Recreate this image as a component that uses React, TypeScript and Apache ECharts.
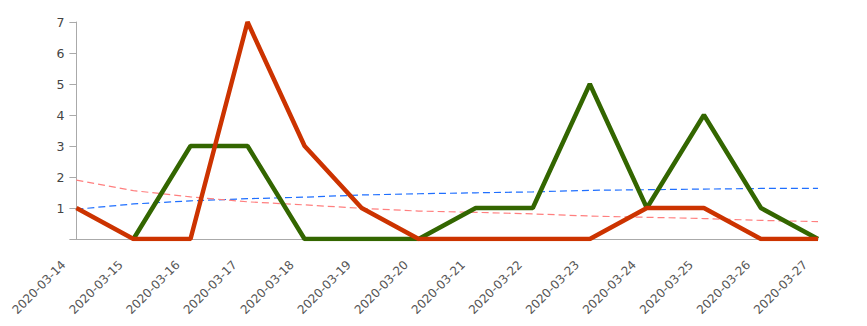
import React, { useEffect, useRef } from "react";
import * as echarts from "echarts";

const dates = [
  "2020-03-14", "2020-03-15", "2020-03-16", "2020-03-17", "2020-03-18", "2020-03-19", "2020-03-20",
  "2020-03-21", "2020-03-22", "2020-03-23", "2020-03-24", "2020-03-25", "2020-03-26", "2020-03-27",
];
const redValues = [1, 0, 0, 7, 3, 1, 0, 0, 0, 0, 1, 1, 0, 0];
const greenValues: (number | string)[] = ["-", 0, 3, 3, 0, 0, 0, 1, 1, 5, 1, 4, 1, 0];
const blueTrend = [0.96, 1.13, 1.23, 1.3, 1.35, 1.42, 1.46, 1.49, 1.52, 1.57, 1.59, 1.61, 1.63, 1.63];
const redTrend = [1.9, 1.56, 1.36, 1.2, 1.1, 0.99, 0.9, 0.86, 0.81, 0.74, 0.7, 0.66, 0.6, 0.56];
const yTicks = [0, 1, 2, 3, 4, 5, 6, 7];

export default function App() {
  const ref = useRef<HTMLDivElement>(null);
  useEffect(() => {
    if (!ref.current) return;
    const chart = echarts.init(ref.current, undefined, { renderer: "svg" });
    chart.setOption({
      animation: false,
      textStyle: { fontFamily: "DejaVu Sans" },
      grid: { left: 67, right: 41, top: 14, bottom: 87 },
      xAxis: {
        type: "category",
        data: dates,
        boundaryGap: false,
        axisLine: { lineStyle: { color: "#aaaaaa", width: 1 } },
        axisTick: { show: false },
        axisLabel: {
          rotate: 45,
          color: "#555555",
          fontSize: 12,
          margin: 11,
          padding: [0, 18, 0, 0],
          fontFamily: "DejaVu Sans",
        },
        splitLine: { show: false },
      },
      yAxis: {
        type: "value",
        min: yTicks[0],
        max: yTicks[yTicks.length - 1],
        interval: 1,
        axisLine: { show: true, lineStyle: { color: "#aaaaaa", width: 1 } },
        axisTick: { show: true, length: 7, lineStyle: { color: "#aaaaaa" } },
        axisLabel: {
          color: "#444444",
          fontSize: 12.5,
          margin: 12,
          fontFamily: "DejaVu Sans",
          formatter: (v: number) => (v === 0 ? "" : String(v)),
        },
        splitLine: { show: false },
      },
      series: [
        {
          type: "line",
          data: blueTrend,
          symbol: "none",
          lineStyle: { color: "#1f6fff", width: 1.2, type: [7, 4] },
          z: 1,
        },
        {
          type: "line",
          data: redTrend,
          symbol: "none",
          lineStyle: { color: "#ff7f7f", width: 1.2, type: [7, 4] },
          z: 1,
        },
        {
          type: "line",
          data: greenValues,
          symbol: "none",
          lineStyle: { color: "#336600", width: 4.5 },
          z: 2,
        },
        {
          type: "line",
          data: redValues,
          symbol: "none",
          lineStyle: { color: "#cc3300", width: 4.5 },
          z: 3,
        },
      ],
    });
    return () => chart.dispose();
  }, []);
  return <div ref={ref} style={{ width: 851, height: 318 }} />;
}
